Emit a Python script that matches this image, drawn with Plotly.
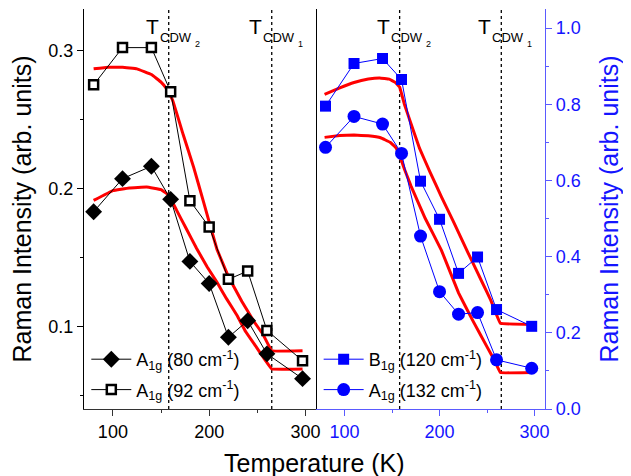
import plotly.graph_objects as go

# ---------------- data ----------------
temps = [80, 110, 140, 160, 180, 200, 220, 240, 260, 297]
a1g_80 = [0.183, 0.207, 0.216, 0.192, 0.147, 0.131, 0.092, 0.104, 0.080, 0.062]
a1g_92 = [0.275, 0.302, 0.302, 0.270, 0.191, 0.172, 0.134, 0.140, 0.097, 0.075]
b1g_120 = [0.795, 0.907, 0.920, 0.865, 0.598, 0.498, 0.356, 0.399, 0.261, 0.217]
a1g_132 = [0.687, 0.768, 0.748, 0.671, 0.454, 0.308, 0.249, 0.253, 0.129, 0.107]

# fitted curves
fit_80_T = [80, 100, 117, 135, 150, 158, 166, 176, 187, 198, 208, 218, 229, 238, 248, 257, 265, 297]
fit_80 = [0.1912, 0.1983, 0.2003, 0.2009, 0.199, 0.195, 0.1844, 0.171, 0.1564, 0.143, 0.132,
          0.120, 0.1078, 0.096, 0.0859, 0.0766, 0.069, 0.069]
fit_92_T = [80, 95, 110, 125, 140, 150, 156, 162, 173, 184, 194, 208, 220, 234, 246, 256, 265, 297]
fit_92 = [0.2866, 0.2878, 0.2878, 0.2866, 0.2825, 0.277, 0.272, 0.264, 0.239, 0.215, 0.1905,
          0.156, 0.136, 0.118, 0.104, 0.094, 0.0822, 0.0822]
fit_120_T = [79, 95, 110, 125, 137, 147, 153, 158, 163, 169, 179, 190, 202, 215, 230, 245, 254, 264, 297]
fit_120 = [0.826, 0.843, 0.857, 0.866, 0.869, 0.866, 0.858, 0.845, 0.80, 0.756, 0.684, 0.622,
           0.557, 0.49, 0.41, 0.332, 0.285, 0.225, 0.222]
fit_132_T = [79, 95, 110, 125, 138, 148, 154, 158, 163, 170, 185, 202, 220, 235, 250, 258, 264, 298]
fit_132 = [0.713, 0.718, 0.719, 0.717, 0.712, 0.700, 0.686, 0.665, 0.63, 0.585, 0.500, 0.4165,
           0.305, 0.232, 0.163, 0.127, 0.0957, 0.0957]

T_CDW2 = 158
T_CDW1 = 265

FONT = "Liberation Sans, Arial, sans-serif"
BLUE = "rgb(20,20,255)"
BLUE_LINE = "rgb(90,90,255)"
DARK = "#333333"
D = 0.5033

fig = go.Figure()

red = dict(color="rgb(255,0,0)", width=3, shape="spline", smoothing=0.15)
fig.add_trace(go.Scatter(x=fit_80_T, y=fit_80, mode="lines", line=red, showlegend=False,
                         xaxis="x", yaxis="y"))
fig.add_trace(go.Scatter(x=fit_92_T, y=fit_92, mode="lines", line=red, showlegend=False,
                         xaxis="x", yaxis="y"))
fig.add_trace(go.Scatter(x=fit_120_T, y=fit_120, mode="lines", line=red, showlegend=False,
                         xaxis="x2", yaxis="y2"))
fig.add_trace(go.Scatter(x=fit_132_T, y=fit_132, mode="lines", line=red, showlegend=False,
                         xaxis="x2", yaxis="y2"))

fig.add_trace(go.Scatter(
    x=temps, y=a1g_80, mode="lines+markers", name="A<sub>1g</sub> (80 cm<sup>-1</sup>)",
    line=dict(color="black", width=1),
    marker=dict(symbol="diamond", size=13, color="black"),
    xaxis="x", yaxis="y", legend="legend", legendgroup="a"))
fig.add_trace(go.Scatter(
    x=temps, y=a1g_92, mode="lines+markers", name="A<sub>1g</sub> (92 cm<sup>-1</sup>)",
    line=dict(color="black", width=1),
    marker=dict(symbol="square", size=9, color="white", line=dict(color="black", width=2.5)),
    xaxis="x", yaxis="y", legend="legend", legendgroup="b"))
fig.add_trace(go.Scatter(
    x=temps, y=b1g_120, mode="lines+markers", name="B<sub>1g</sub> (120 cm<sup>-1</sup>)",
    line=dict(color="blue", width=1),
    marker=dict(symbol="square", size=11, color="blue"),
    xaxis="x2", yaxis="y2", legend="legend2", legendgroup="c"))
fig.add_trace(go.Scatter(
    x=temps, y=a1g_132, mode="lines+markers", name="A<sub>1g</sub> (132 cm<sup>-1</sup>)",
    line=dict(color="blue", width=1),
    marker=dict(symbol="circle", size=13, color="blue"),
    xaxis="x2", yaxis="y2", legend="legend2", legendgroup="d"))

xcommon = dict(range=[70, 311], tickvals=[100, 200, 300], showgrid=False, zeroline=False,
               showline=True, linewidth=1.2, ticklen=6, tickwidth=1.2, automargin=False)
fig.update_layout(
    width=631, height=476,
    # the page body adds an 8 px offset; margins compensate so the plot area sits at 84..545 x 9..409
    margin=dict(l=76, r=94, t=1, b=75, autoexpand=False),
    paper_bgcolor="white", plot_bgcolor="white",
    font=dict(family=FONT, size=18, color="black"),
    xaxis=dict(domain=[0, D], anchor="y", ticks="outside", linecolor=DARK, tickcolor=DARK,
               tickfont=dict(size=18, color="black"),
               minor=dict(dtick=50, tick0=0, ticks="outside", ticklen=3, tickcolor=DARK),
               **xcommon),
    xaxis3=dict(overlaying="x", side="top", anchor="y", ticks="inside", linecolor=DARK,
                tickcolor=DARK, showticklabels=False,
                minor=dict(dtick=50, tick0=0, ticks="inside", ticklen=3, tickcolor=DARK),
                **xcommon),
    xaxis2=dict(domain=[D, 1], anchor="y2", ticks="outside", linecolor=BLUE_LINE, tickcolor=BLUE_LINE,
                tickfont=dict(size=18, color=BLUE),
                minor=dict(dtick=50, tick0=0, ticks="outside", ticklen=3, tickcolor=BLUE_LINE),
                **xcommon),
    xaxis4=dict(overlaying="x2", side="top", anchor="y2", ticks="inside", linecolor=BLUE_LINE,
                tickcolor=BLUE_LINE, showticklabels=False,
                minor=dict(dtick=50, tick0=0, ticks="inside", ticklen=3, tickcolor=BLUE_LINE),
                **xcommon),
    yaxis=dict(domain=[0, 1], anchor="x", range=[0.04, 0.33], tickvals=[0.1, 0.2, 0.3],
               ticks="outside", ticklen=6, tickwidth=1.2, showline=True, linewidth=1.2,
               linecolor="black", mirror=True, tickcolor="black", showgrid=False, zeroline=False,
               automargin=False,
               minor=dict(dtick=0.05, tick0=0, ticks="outside", ticklen=3, tickcolor="black"),
               tickfont=dict(size=18, color="black"),
               title=dict(text="Raman Intensity (arb. units)", font=dict(size=25, color="black"),
                          standoff=10)),
    yaxis2=dict(domain=[0, 1], anchor="x2", side="right", range=[0, 1.05],
                tickvals=[0, 0.2, 0.4, 0.6, 0.8, 1.0], tickformat=".1f",
                ticks="outside", ticklen=6, tickwidth=1.2, showline=True, linewidth=1.2,
                linecolor=BLUE_LINE, tickcolor=BLUE_LINE, showgrid=False, zeroline=False,
                automargin=False,
                minor=dict(dtick=0.1, tick0=0, ticks="outside", ticklen=3, tickcolor=BLUE_LINE),
                tickfont=dict(size=18, color=BLUE),
                title=dict(text="Raman Intensity (arb. units)", font=dict(size=25, color=BLUE),
                           standoff=20)),
    yaxis4=dict(overlaying="y2", side="left", anchor="x2", range=[0, 1.05],
                tickvals=[0.1, 0.2, 0.3, 0.4, 0.5, 0.6, 0.7, 0.8, 0.9, 1.0],
                ticks="inside", ticklen=3, tickwidth=1, tickcolor=DARK, showticklabels=False,
                showline=False, showgrid=False, zeroline=False, automargin=False),
    legend=dict(x=0.005, y=0.17, xanchor="left", yanchor="top", bgcolor="rgba(0,0,0,0)",
                font=dict(size=18, color="black"), tracegroupgap=4, traceorder="grouped",
                itemwidth=40),
    legend2=dict(x=0.509, y=0.17, xanchor="left", yanchor="top", bgcolor="rgba(0,0,0,0)",
                 font=dict(size=18, color="black"), tracegroupgap=4, traceorder="grouped",
                 itemwidth=40),
)

# dotted transition lines
for xr, yr in (("x", "y domain"), ("x2", "y2 domain")):
    for tc in (T_CDW2, T_CDW1):
        fig.add_shape(type="line", xref=xr, yref=yr, x0=tc, x1=tc, y0=0, y1=1,
                      line=dict(color="black", width=1.3, dash="dot"), layer="below")

# T_CDW labels
for xr in ("x", "x2"):
    for tc, num in ((T_CDW2, "2"), (T_CDW1, "1")):
        fig.add_annotation(x=tc, xref=xr, y=1, yref="paper", yanchor="top", xanchor="right",
                           xshift=-8, yshift=-4, showarrow=False,
                           text="T", font=dict(size=21, color="black"))
        fig.add_annotation(x=tc, xref=xr, y=1, yref="paper", yanchor="top", xanchor="left",
                           xshift=-11, yshift=-19, showarrow=False,
                           text="CDW", font=dict(size=13, color="black"))
        fig.add_annotation(x=tc, xref=xr, y=1, yref="paper", yanchor="top", xanchor="left",
                           xshift=24, yshift=-28, showarrow=False,
                           text=num, font=dict(size=9, color="black"))

fig.add_annotation(x=0.5, xref="paper", y=-0.095, yref="paper", yanchor="top", xanchor="center",
                   showarrow=False, text="Temperature (K)", font=dict(size=25, color="black"))

fig.write_html("out.html")
